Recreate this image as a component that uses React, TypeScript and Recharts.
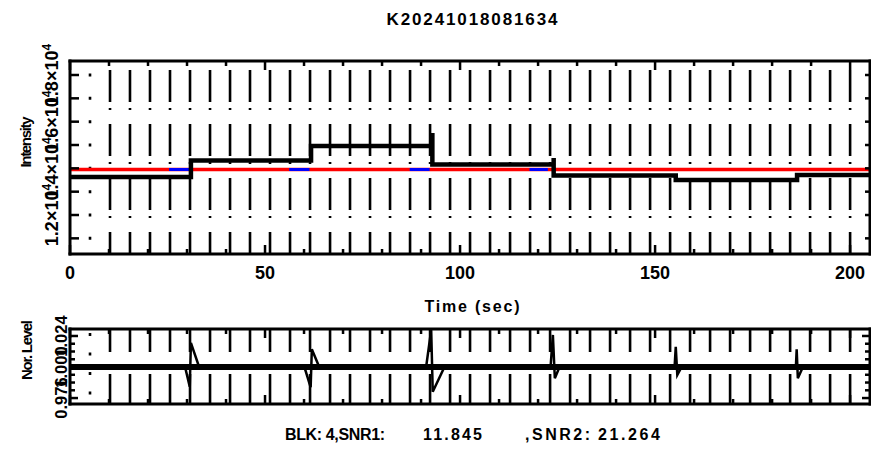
import React from 'react';
import { LineChart, Line, XAxis, YAxis, ReferenceLine } from 'recharts';

const TITLE = 'K20241018081634';
const FONT = '"Liberation Sans", Arial, sans-serif';

// time axis (sec)
const T_MAX = 205.1;
const TIME_TICKS = [0, 10, 20, 30, 40, 50, 60, 70, 80, 90, 100, 110, 120, 130, 140, 150, 160, 170, 180, 190, 200];
const TIME_LABELS = [0, 50, 100, 150, 200];
const GRID_T = [
  5.13, 10.26, 15.38, 20.51, 25.64, 30.77, 35.9, 41.03, 46.15, 51.28,
  56.41, 61.54, 66.67, 71.79, 76.92, 82.05, 87.18, 92.31, 97.44, 102.56,
  107.69, 112.82, 117.95, 123.08, 128.21, 133.33, 138.46, 143.59, 148.72, 153.85,
  158.97, 164.1, 169.23, 174.36, 179.49, 184.62, 189.74, 194.87, 200.0,
];

// intensity per block
const STEP_TIME = [0, 31.0, 31.0, 61.8, 61.8, 92.9, 92.9, 92.9, 124.0, 124.0, 124.0, 155.3, 155.3, 186.4, 186.4, 205.1];
const STEP_INTENSITY = [13629, 13629, 14336, 14336, 14957, 14957, 15514, 14164, 14164, 14443, 13693, 13693, 13500, 13500, 13714, 13714];
const REF_LEVEL = 13950;
const BLUE_FROM = [25.4, 56.2, 87.1, 117.8];
const BLUE_TO = [30.6, 61.4, 92.2, 122.5];
const INT_DOMAIN = [10329, 18600];
const INT_TICKS = [11000, 12000, 13000, 14000, 15000, 16000, 17000, 18000];
const INT_LABELS = [12000, 14000, 16000, 18000];

// normalised level
const NOR_TIME = [
  0, 29.5, 30.7, 31.0, 33.1,
  60.1, 61.7, 62.0, 63.9,
  91.3, 92.6, 93.0, 96.0,
  123.2, 123.8, 124.3, 125.5,
  155.0, 155.3, 155.7, 156.8,
  186.1, 186.3, 186.6, 187.9, 205.1,
];
const NOR_LEVEL = [
  1.0, 1.0, 0.9848, 1.0186, 1.0,
  1.0, 0.9843, 1.0137, 1.0,
  1.0, 1.0286, 0.9809, 1.0,
  1.0, 1.0248, 0.9913, 1.0,
  1.0, 1.0157, 0.9938, 1.0,
  1.0, 1.0137, 0.9913, 1.0, 1.0,
];
const NOR_DOMAIN = [0.9714, 1.0294];
const NOR_TICKS = [0.976, 0.982, 0.988, 0.994, 1.0, 1.006, 1.012, 1.018, 1.024];
const NOR_LABELS = [0.976, 1.0, 1.024];

const stepData = STEP_TIME.map((t, i) => ({ t, v: STEP_INTENSITY[i] }));
const refData = [{ t: 0, v: REF_LEVEL }, { t: T_MAX, v: REF_LEVEL }];
const norData = NOR_TIME.map((t, i) => ({ t, v: NOR_LEVEL[i] }));
const baseData = [{ t: 0, v: 1.0 }, { t: T_MAX, v: 1.0 }];

const W = 871;
const PLOT_RIGHT = 870;
const UP_TOP = 61;
const LOW_TOP = 29;

const lineShape = (dash: string | undefined, width: number) => (p: any) => (
  <line
    x1={p.x1}
    x2={p.x2}
    y1={Math.min(p.y1, p.y2)}
    y2={Math.max(p.y1, p.y2)}
    stroke="#000"
    strokeWidth={width}
    strokeDasharray={dash}
    strokeLinecap={dash ? 'butt' : 'square'}
  />
);

const xTick = (top: number, withLabel: boolean) => (props: any) => {
  const { x, y, payload } = props;
  const major = TIME_LABELS.includes(payload.value);
  const len = major ? 9 : 5;
  return (
    <g>
      <line x1={x} x2={x} y1={y} y2={y - len} stroke="#000" strokeWidth={2.5} />
      <line x1={x} x2={x} y1={top} y2={top + len} stroke="#000" strokeWidth={2.5} />
      {withLabel && major && (
        <text x={x} y={y + 24.5} textAnchor="middle" fontFamily={FONT} fontWeight="bold" fontSize={18} fill="#000">
          {payload.value}
        </text>
      )}
    </g>
  );
};

const intTick = (props: any) => {
  const { x, y, payload } = props;
  const v = payload.value;
  const bx = x - 12;
  return (
    <g>
      <line x1={x} x2={x + 9} y1={y} y2={y} stroke="#000" strokeWidth={2.5} />
      <line x1={PLOT_RIGHT - 5} x2={PLOT_RIGHT} y1={y} y2={y} stroke="#000" strokeWidth={2.5} />
      {INT_LABELS.includes(v) && (
        <text x={bx} y={y} transform={`rotate(-90 ${bx} ${y})`} textAnchor="middle" fontFamily={FONT} fontWeight="bold" fontSize={18} fill="#000">
          {(v / 10000).toFixed(1)}×10<tspan dy={-7} fontSize={12}>4</tspan>
        </text>
      )}
    </g>
  );
};

const norTick = (props: any) => {
  const { x, y, payload } = props;
  const v = payload.value;
  const labelled = NOR_LABELS.includes(v);
  const len = labelled ? 8 : 5;
  const bx = x - 3;
  return (
    <g>
      <line x1={x} x2={x + len} y1={y} y2={y} stroke="#000" strokeWidth={2.5} />
      <line x1={PLOT_RIGHT - len} x2={PLOT_RIGHT} y1={y} y2={y} stroke="#000" strokeWidth={2.5} />
      {labelled && (
        <text x={bx} y={y} transform={`rotate(-90 ${bx} ${y})`} textAnchor="middle" fontFamily={FONT} fontWeight="bold" fontSize={16.5} fill="#000">
          {v.toFixed(3)}
        </text>
      )}
    </g>
  );
};

function IntensityPanel() {
  return (
    <LineChart width={W} height={284} margin={{ top: UP_TOP, right: 1, left: 40, bottom: 0 }}>
      <XAxis type="number" dataKey="t" domain={[0, T_MAX]} ticks={TIME_TICKS} interval={0} height={30}
        tickSize={0} tickMargin={0} axisLine={false} tickLine={false} tick={xTick(UP_TOP, true)} allowDataOverflow />
      <YAxis type="number" domain={INT_DOMAIN} ticks={INT_TICKS} interval={0} width={30}
        tickSize={0} tickMargin={0} axisLine={false} tickLine={false} tick={intTick} allowDataOverflow />
      {GRID_T.map((g, i) => (
        <ReferenceLine key={g} x={g} shape={lineShape(i === 0 ? '0 12.5 3 7.83' : '0 9 32 6 2 5', 2.6)} />
      ))}
      <Line data={refData} dataKey="v" stroke="#ff0000" strokeWidth={3.5} dot={false} isAnimationActive={false} />
      {BLUE_FROM.map((t0, i) => (
        <Line key={t0} data={[{ t: t0, v: REF_LEVEL }, { t: BLUE_TO[i], v: REF_LEVEL }]} dataKey="v"
          stroke="#0000ff" strokeWidth={3} dot={false} isAnimationActive={false} />
      ))}
      <Line data={stepData} dataKey="v" stroke="#000" strokeWidth={4.5} dot={false} isAnimationActive={false} />
      <ReferenceLine x={0} shape={lineShape(undefined, 3)} />
      <ReferenceLine x={T_MAX} shape={lineShape(undefined, 3)} />
      <ReferenceLine y={INT_DOMAIN[0]} shape={lineShape(undefined, 3)} />
      <ReferenceLine y={INT_DOMAIN[1]} shape={lineShape(undefined, 3)} />
    </LineChart>
  );
}

function LevelPanel() {
  return (
    <LineChart width={W} height={120} margin={{ top: LOW_TOP, right: 1, left: 40, bottom: 10 }}>
      <XAxis type="number" dataKey="t" domain={[0, T_MAX]} ticks={TIME_TICKS} interval={0} height={6}
        tickSize={0} tickMargin={0} axisLine={false} tickLine={false} tick={xTick(LOW_TOP, false)} allowDataOverflow />
      <YAxis type="number" domain={NOR_DOMAIN} ticks={NOR_TICKS} interval={0} width={30}
        tickSize={0} tickMargin={0} axisLine={false} tickLine={false} tick={norTick} allowDataOverflow />
      {GRID_T.map((g, i) => (
        <ReferenceLine key={g} x={g} shape={lineShape(i === 0 ? '0 4 3 12.5' : '23 22 40', 2.6)} />
      ))}
      <Line data={baseData} dataKey="v" stroke="#000" strokeWidth={6} dot={false} isAnimationActive={false} />
      <Line data={norData} dataKey="v" stroke="#000" strokeWidth={2.5} dot={false} isAnimationActive={false} />
      <ReferenceLine x={0} shape={lineShape(undefined, 3)} />
      <ReferenceLine x={T_MAX} shape={lineShape(undefined, 3)} />
      <ReferenceLine y={NOR_DOMAIN[0]} shape={lineShape(undefined, 3)} />
      <ReferenceLine y={NOR_DOMAIN[1]} shape={lineShape(undefined, 3)} />
    </LineChart>
  );
}

export default function App() {
  const txt = { fontFamily: FONT, fontWeight: 'bold' as const, fill: '#000' };
  return (
    <div style={{ position: 'absolute', left: 0, top: 0, width: W, height: 449, background: '#fff' }}>
      <div style={{ position: 'absolute', left: 0, top: 0 }}>
        <IntensityPanel />
      </div>
      <div style={{ position: 'absolute', left: 0, top: 300 }}>
        <LevelPanel />
      </div>
      <svg width={W} height={449} style={{ position: 'absolute', left: 0, top: 0, pointerEvents: 'none' }}>
        <text x={472} y={25} textAnchor="middle" fontSize={17} textLength={171} {...txt}>{TITLE}</text>
        <text x={472} y={312} textAnchor="middle" fontSize={16} textLength={95} {...txt}>Time (sec)</text>
        <text x={31} y={142} transform="rotate(-90 31 142)" textAnchor="middle" fontSize={15} textLength={51} {...txt}>Intensity</text>
        <text x={32} y={350} transform="rotate(-90 32 350)" textAnchor="middle" fontSize={15} textLength={60} {...txt}>Nor.  Level</text>
        <text x={285} y={440} fontSize={16} textLength={100} {...txt}>BLK: 4,SNR1:</text>
        <text x={423} y={440} fontSize={16} textLength={59} {...txt}>11.845</text>
        <text x={525} y={440} fontSize={16} textLength={65} {...txt}>,SNR2:</text>
        <text x={598} y={440} fontSize={16} textLength={62} {...txt}>21.264</text>
      </svg>
    </div>
  );
}
